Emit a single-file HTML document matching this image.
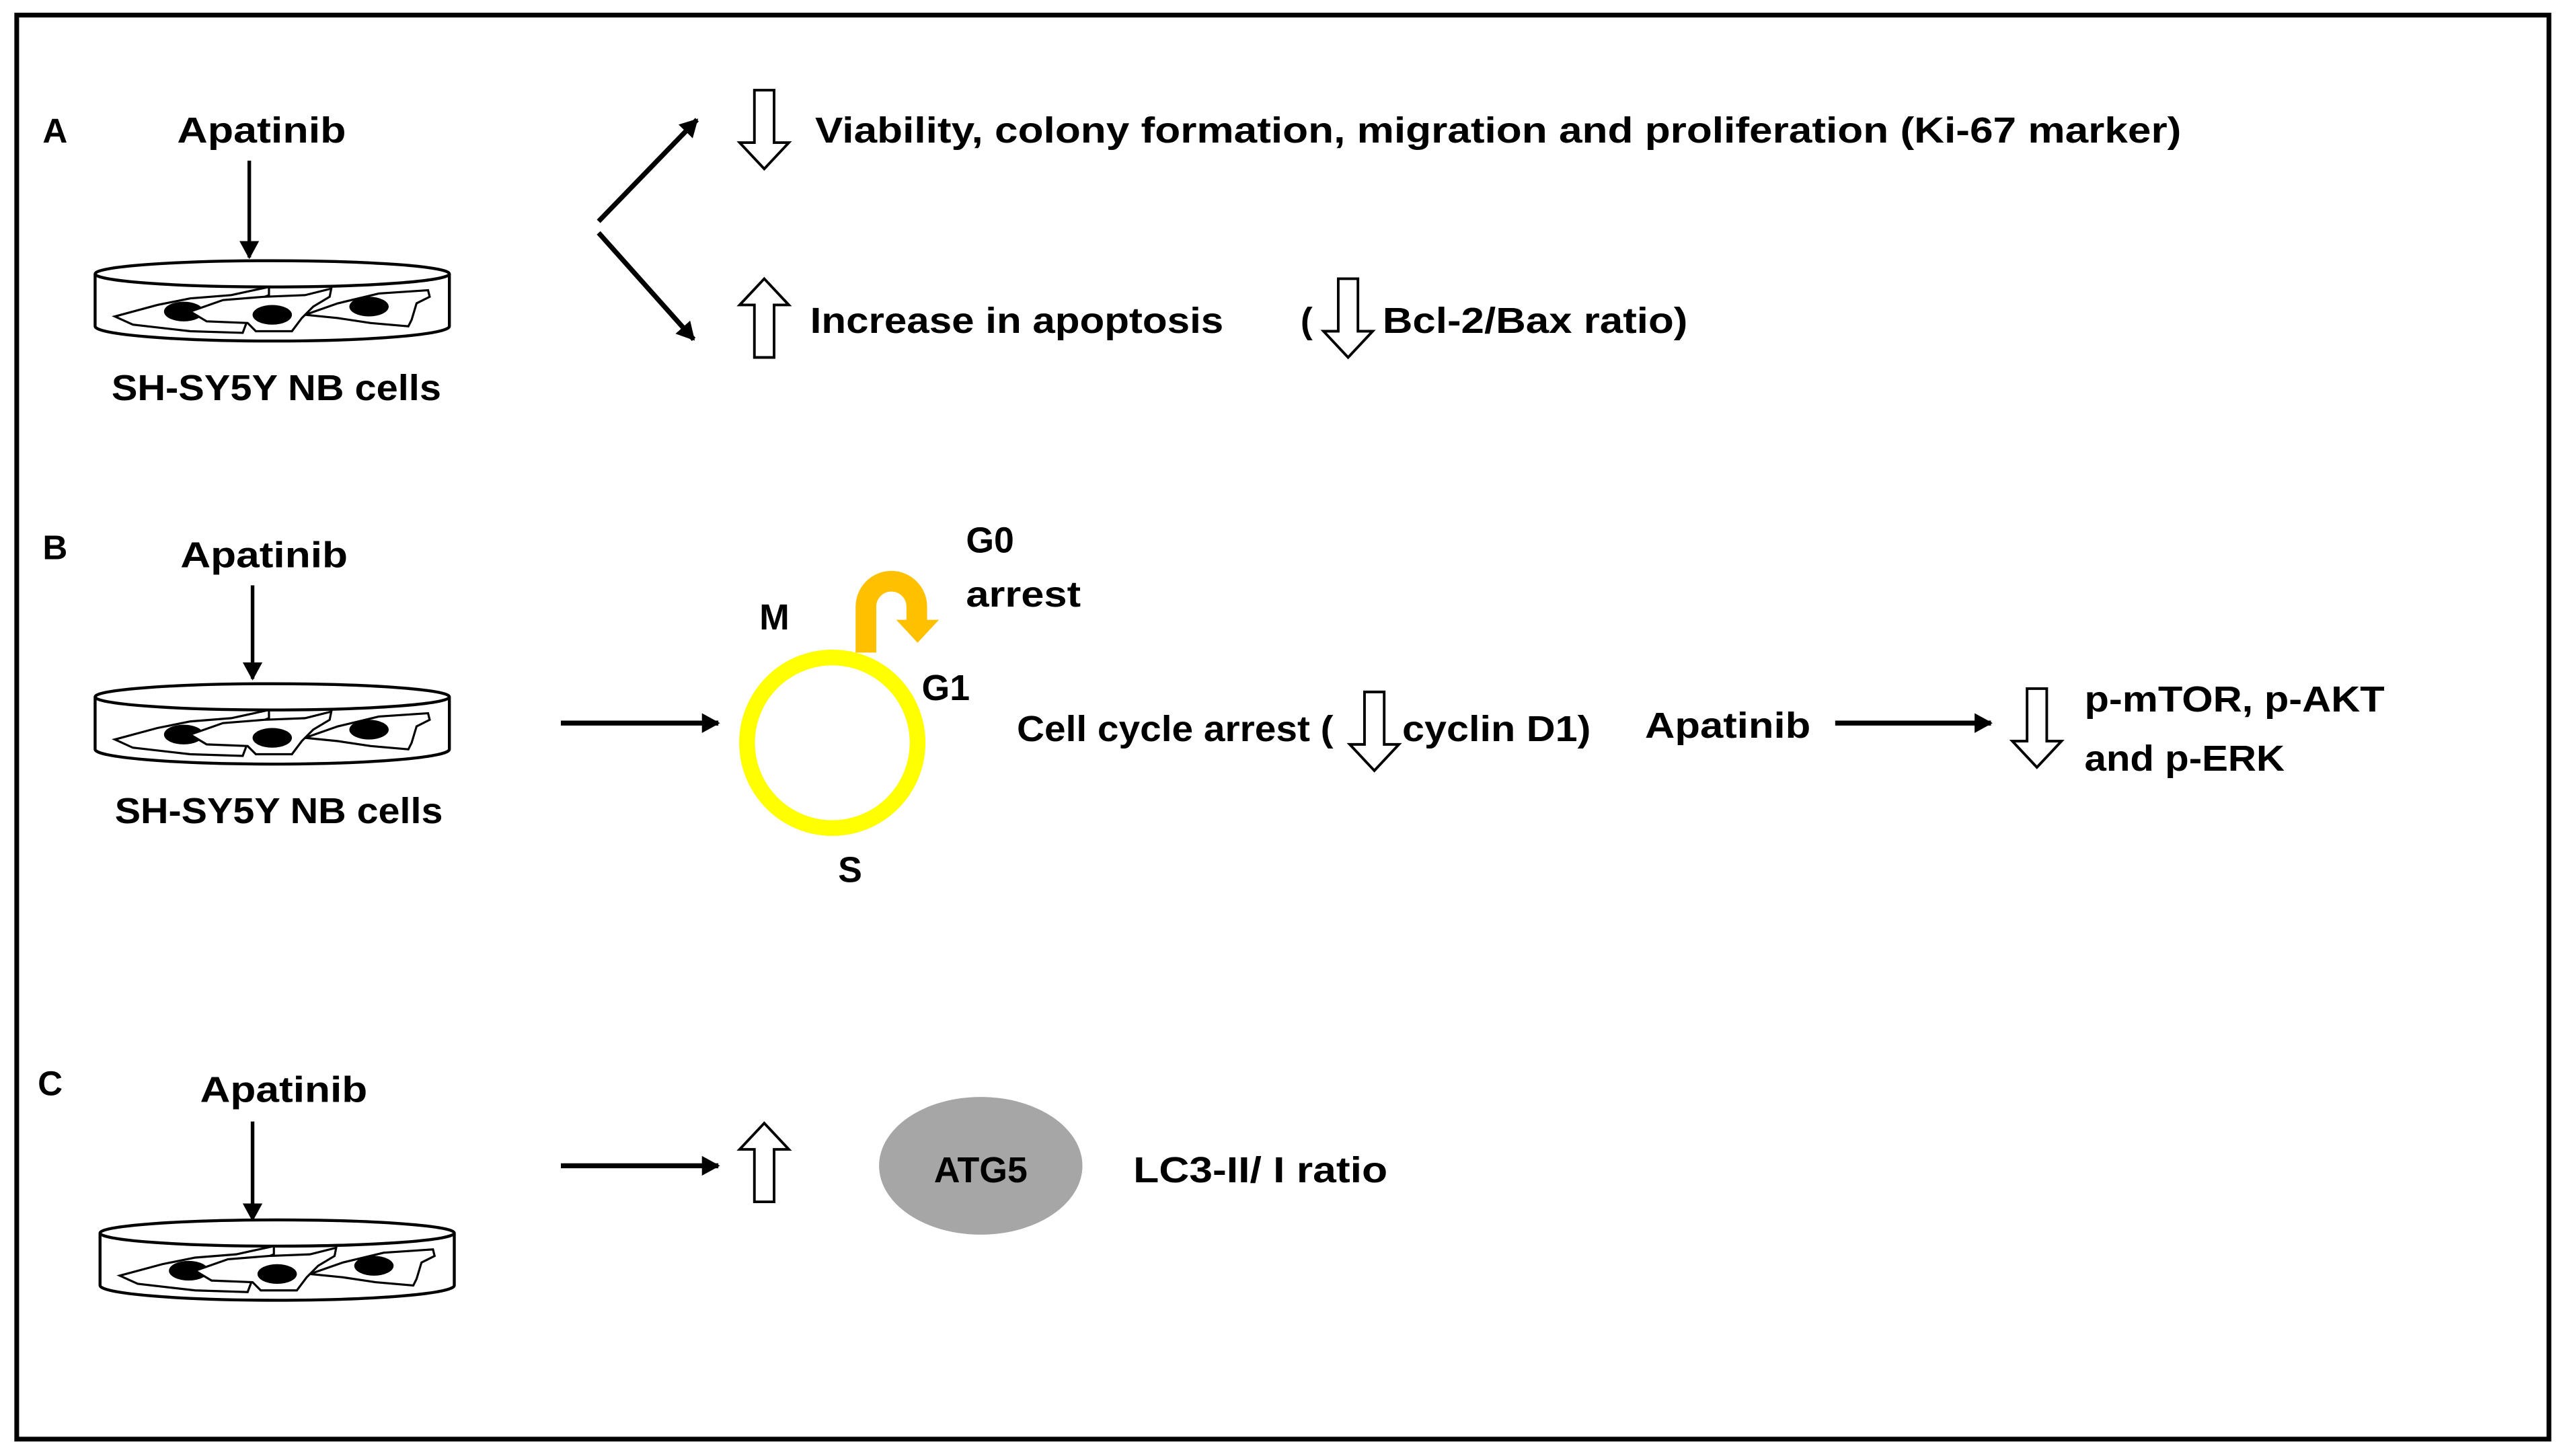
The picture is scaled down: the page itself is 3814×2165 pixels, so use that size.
<!DOCTYPE html>
<html><head><meta charset="utf-8"><style>
html,body{margin:0;padding:0;background:#fff;}
svg{display:block;}
text{font-family:"Liberation Sans",sans-serif;font-weight:bold;fill:#000;}
</style></head><body>
<svg width="3814" height="2165" viewBox="0 0 1564 888" preserveAspectRatio="none" xmlns="http://www.w3.org/2000/svg">
<defs>
<marker id="ah" markerWidth="11" markerHeight="12" refX="10" refY="6" orient="auto" markerUnits="userSpaceOnUse">
<path d="M0,0 L11,6 L0,12 Z" fill="#000"/>
</marker>
<g id="dish">
<path d="M-108,0 A108,8 0 0 1 108,0 A108,8 0 0 1 -108,0 Z" fill="#fff" stroke="#000" stroke-width="1.8"/>
<path d="M-108,0 L-108,32 A108,9 0 0 0 108,32 L108,0" fill="none" stroke="#000" stroke-width="1.8"/>
<path d="M-96,26 L-70,19 L-50,15 L-25,13 L-2,8 L-2,13 L-20,20 L-35,27 L-15,28 L-18,36 L-50,35 L-85,31 Z" fill="#fff" stroke="#000" stroke-width="1.3"/>
<ellipse cx="-54" cy="23" rx="12" ry="6" fill="#000"/>
<path d="M-50,23 L-30,16 L-5,14 L20,13 L36,9 L35,14 L25,20 L18,27 L12,35 L-10,35 L-15,30 L-40,29 Z" fill="#fff" stroke="#000" stroke-width="1.3"/>
<ellipse cx="0" cy="25" rx="12" ry="6" fill="#000"/>
<path d="M20,25 L40,18 L65,12 L95,10 L96,14 L88,18 L85,28 L83,32 L60,30 L40,27 Z" fill="#fff" stroke="#000" stroke-width="1.3"/>
<ellipse cx="59" cy="20" rx="12" ry="6" fill="#000"/>
</g>
<path id="hd" d="M-6,0 L6,0 L6,32 L15,32 L0,48 L-15,32 L-6,32 Z" fill="#fff" stroke="#000" stroke-width="1.6"/>
<path id="hu" d="M-6,48 L6,48 L6,16 L15,16 L0,0 L-15,16 L-6,16 Z" fill="#fff" stroke="#000" stroke-width="1.6"/>
</defs>
<rect x="10.2" y="9.2" width="1544" height="868.5" fill="none" stroke="#000" stroke-width="2.9"/>

<!-- Panel A -->
<text x="26" y="87" font-size="21">A</text>
<text x="108" y="87" font-size="22" textLength="103" lengthAdjust="spacingAndGlyphs">Apatinib</text>
<line x1="152" y1="98" x2="152" y2="157" stroke="#000" stroke-width="2.2" marker-end="url(#ah)"/>
<use href="#dish" x="166" y="167"/>
<text x="68" y="244" font-size="22" textLength="201" lengthAdjust="spacingAndGlyphs">SH-SY5Y NB cells</text>
<line x1="365" y1="135" x2="425" y2="73" stroke="#000" stroke-width="3" marker-end="url(#ah)"/>
<line x1="365" y1="142" x2="423" y2="207" stroke="#000" stroke-width="3" marker-end="url(#ah)"/>
<use href="#hd" x="466" y="55"/>
<text x="497" y="87" font-size="22" textLength="833" lengthAdjust="spacingAndGlyphs">Viability, colony formation, migration and proliferation (Ki-67 marker)</text>
<use href="#hu" x="466" y="170"/>
<text x="494" y="203" font-size="22" textLength="252" lengthAdjust="spacingAndGlyphs">Increase in apoptosis</text>
<text x="793" y="203" font-size="22">(</text>
<use href="#hd" x="822" y="170"/>
<text x="843" y="203" font-size="22" textLength="186" lengthAdjust="spacingAndGlyphs">Bcl-2/Bax ratio)</text>

<!-- Panel B -->
<text x="26" y="341" font-size="21">B</text>
<text x="110" y="346" font-size="22" textLength="102" lengthAdjust="spacingAndGlyphs">Apatinib</text>
<line x1="154" y1="357" x2="154" y2="414" stroke="#000" stroke-width="2.2" marker-end="url(#ah)"/>
<use href="#dish" x="166" y="425"/>
<text x="70" y="502" font-size="22" textLength="200" lengthAdjust="spacingAndGlyphs">SH-SY5Y NB cells</text>
<line x1="342" y1="441" x2="438" y2="441" stroke="#000" stroke-width="3" marker-end="url(#ah)"/>
<circle cx="507.5" cy="453" r="52" fill="none" stroke="#FFFF00" stroke-width="9.6"/>
<path d="M528,398 L528,370 A15.5,15.5 0 0 1 559,370 L559,379" fill="none" stroke="#FFC000" stroke-width="12.6"/>
<polygon points="546.5,378 572.5,378 559.5,392" fill="#FFC000"/>
<text x="463" y="384" font-size="22">M</text>
<text x="589" y="337" font-size="22">G0</text>
<text x="589" y="370" font-size="22" textLength="70" lengthAdjust="spacingAndGlyphs">arrest</text>
<text x="562" y="427" font-size="22">G1</text>
<text x="511" y="538" font-size="22">S</text>
<text x="620" y="452" font-size="22" textLength="193" lengthAdjust="spacingAndGlyphs">Cell cycle arrest (</text>
<use href="#hd" x="838" y="422"/>
<text x="855" y="452" font-size="22" textLength="115" lengthAdjust="spacingAndGlyphs">cyclin D1)</text>
<text x="1003" y="450" font-size="22" textLength="101" lengthAdjust="spacingAndGlyphs">Apatinib</text>
<line x1="1119" y1="441" x2="1214" y2="441" stroke="#000" stroke-width="3" marker-end="url(#ah)"/>
<use href="#hd" x="1242" y="420"/>
<text x="1271" y="434" font-size="22" textLength="183" lengthAdjust="spacingAndGlyphs">p-mTOR, p-AKT</text>
<text x="1271" y="470" font-size="22" textLength="122" lengthAdjust="spacingAndGlyphs">and p-ERK</text>

<!-- Panel C -->
<text x="23" y="668" font-size="21">C</text>
<text x="122" y="672" font-size="22" textLength="102" lengthAdjust="spacingAndGlyphs">Apatinib</text>
<line x1="154" y1="684" x2="154" y2="744" stroke="#000" stroke-width="2.2" marker-end="url(#ah)"/>
<use href="#dish" x="169" y="752"/>
<line x1="342" y1="711" x2="438" y2="711" stroke="#000" stroke-width="3" marker-end="url(#ah)"/>
<use href="#hu" x="466" y="685"/>
<ellipse cx="598" cy="711" rx="62" ry="42" fill="#A6A6A6"/>
<text x="598" y="721" font-size="22" text-anchor="middle">ATG5</text>
<text x="691" y="721" font-size="22" textLength="155" lengthAdjust="spacingAndGlyphs">LC3-II/ I ratio</text>
</svg>
</body></html>
